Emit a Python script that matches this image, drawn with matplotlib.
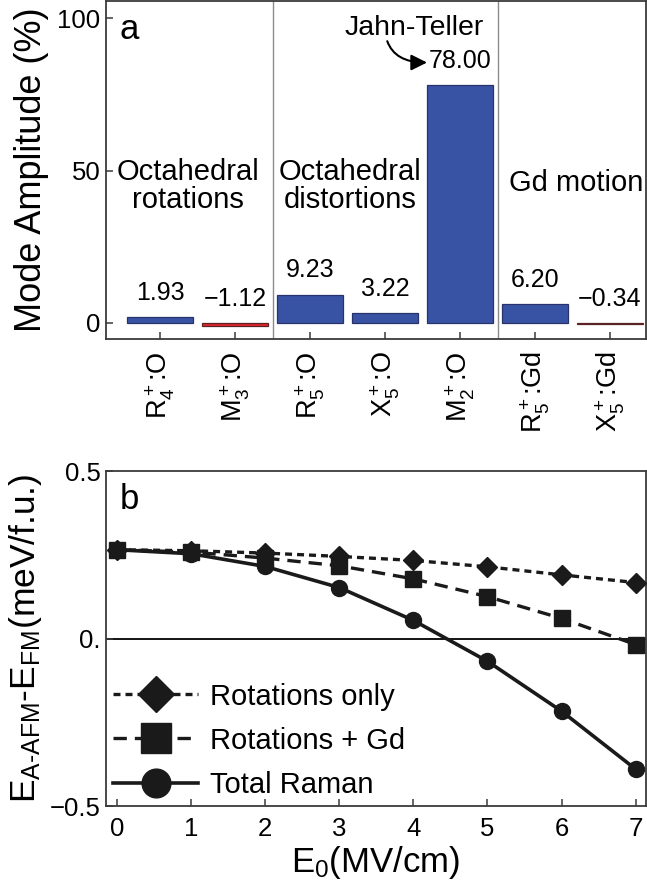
import numpy as np
import matplotlib
matplotlib.use('Agg')
import matplotlib.pyplot as plt

plt.rcParams['font.family'] = ['Liberation Sans', 'DejaVu Sans']
plt.rcParams['mathtext.fontset'] = 'custom'
plt.rcParams['mathtext.rm'] = 'Liberation Sans'
plt.rcParams['mathtext.it'] = 'Liberation Sans:italic'
plt.rcParams['mathtext.bf'] = 'Liberation Sans:bold'

# ---------------- data ----------------
modes = [r'$\mathregular{R_4^+}$:O', r'$\mathregular{M_3^+}$:O', r'$\mathregular{R_5^+}$:O',
         r'$\mathregular{X_5^+}$:O', r'$\mathregular{M_2^+}$:O', r'$\mathregular{R_5^+}$:Gd',
         r'$\mathregular{X_5^+}$:Gd']
amplitudes = [1.93, -1.12, 9.23, 3.22, 78.00, 6.20, -0.34]
group_names = ['Octahedral\nrotations', 'Octahedral\ndistortions', 'Gd motion']

field = [0, 1, 2, 3, 4, 5, 6, 7]
rot_only = [0.265, 0.262, 0.255, 0.245, 0.233, 0.214, 0.190, 0.167]
rot_gd = [0.265, 0.258, 0.240, 0.217, 0.178, 0.125, 0.060, -0.018]
total_raman = [0.265, 0.253, 0.215, 0.152, 0.054, -0.068, -0.217, -0.390]
series_labels = ['Rotations only', 'Rotations + Gd', 'Total Raman']

W, H = 647, 892
fig = plt.figure(figsize=(W / 100, H / 100), dpi=100)

spine_col = '#3a3a3a'
blue = '#3953a4'
red = '#e5262b'
edge_blue = '#27336a'
edge_red = '#5a2222'

# ---------------- panel a ----------------
ax1 = fig.add_axes([106 / W, 1 - 339 / H, 540 / W, 338 / H])
x = np.arange(len(amplitudes))
colors = [blue if v >= 0 else red for v in amplitudes]
edges = [edge_blue if v >= 0 else edge_red for v in amplitudes]
ax1.bar(x, amplitudes, width=0.89, color=colors, edgecolor=edges, linewidth=0.9, zorder=2)
ax1.set_xlim(-0.72, 6.48)
ax1.set_ylim(-5.3, 105.7)
ax1.set_yticks([0, 50, 100])
ax1.set_xticks(x)
ax1.set_xticklabels(modes, rotation=90, fontsize=19.5, va='top')
ax1.tick_params(axis='both', direction='in', length=5, width=1.1, color=spine_col)
ax1.tick_params(axis='y', labelsize=18.5, pad=4)
ax1.tick_params(axis='x', pad=9)
for s in ax1.spines.values():
    s.set_color(spine_col)
    s.set_linewidth(1.3)
for sep in (1.5, 4.5):
    ax1.axvline(sep, color='#8c8c8c', lw=1.0, zorder=1)
for xi, v in zip(x, amplitudes):
    ax1.text(xi, max(v, 0) + 8, f'{v:.2f}'.replace('-', '\u2212'), ha='center', va='center', fontsize=18)
ax1.text(0.37, 45, group_names[0], ha='center', va='center', fontsize=21, linespacing=1.0)
ax1.text(2.54, 45, group_names[1], ha='center', va='center', fontsize=21, linespacing=1.0)
ax1.text(5.55, 46, group_names[2], ha='center', va='center', fontsize=21)
ax1.text(3.39, 96.7, 'Jahn-Teller', ha='center', va='center', fontsize=20.5)
ax1.annotate('', xy=(3.56, 85.5), xytext=(3.03, 92.5),
             arrowprops=dict(arrowstyle='-|>', color='black', lw=1.5, mutation_scale=24,
                             connectionstyle='angle3,angleA=-70,angleB=0', shrinkA=0, shrinkB=0))
ax1.text(0.025, 0.965, 'a', transform=ax1.transAxes, ha='left', va='top', fontsize=25)
ax1.set_ylabel('Mode Amplitude (%)', fontsize=26, labelpad=6)

# ---------------- panel b ----------------
ax2 = fig.add_axes([106 / W, 1 - 806 / H, 540 / W, 335 / H])
ax2.axhline(0, color='black', lw=1.3, zorder=1)
lc = '#1a1a1a'
ax2.plot(field, rot_only, color=lc, lw=2.4, ls=(0, (2.1, 1.5)), marker='D', ms=10,
         label=series_labels[0], zorder=3)
ax2.plot(field, rot_gd, color=lc, lw=2.4, ls=(0, (4.0, 2.4)), marker='s', ms=12,
         label=series_labels[1], zorder=3)
ax2.plot(field, total_raman, color=lc, lw=2.6, ls='-', marker='o', ms=11.5,
         label=series_labels[2], zorder=3)
ax2.set_xlim(-0.15, 7.14)
ax2.set_ylim(-0.5, 0.5)
ax2.set_xticks(field)
ax2.set_yticks([-0.5, 0.0, 0.5])
ax2.set_yticklabels(['\u22120.5', '0.', '0.5'])
ax2.tick_params(axis='both', direction='in', length=5, width=1.1, color=spine_col, labelsize=18.5)
ax2.tick_params(axis='x', pad=8)
ax2.tick_params(axis='y', pad=4)
for s in ax2.spines.values():
    s.set_color(spine_col)
    s.set_linewidth(1.3)
ax2.text(0.025, 0.965, 'b', transform=ax2.transAxes, ha='left', va='top', fontsize=25)
ax2.set_xlabel(r'$\mathregular{E_0}$(MV/cm)', fontsize=25, labelpad=2)
ax2.set_ylabel(r'$\mathregular{E_{A\text{-}AFM}}$-$\mathregular{E_{FM}}$(meV/f.u.)', fontsize=25.5, labelpad=4)
ax2.legend(loc='lower left', frameon=False, fontsize=21, markerscale=1.8, handlelength=2.9,
           handletextpad=0.4, labelspacing=0.55, borderaxespad=0.1, borderpad=0.15)

fig.savefig('out.png', dpi=100)
